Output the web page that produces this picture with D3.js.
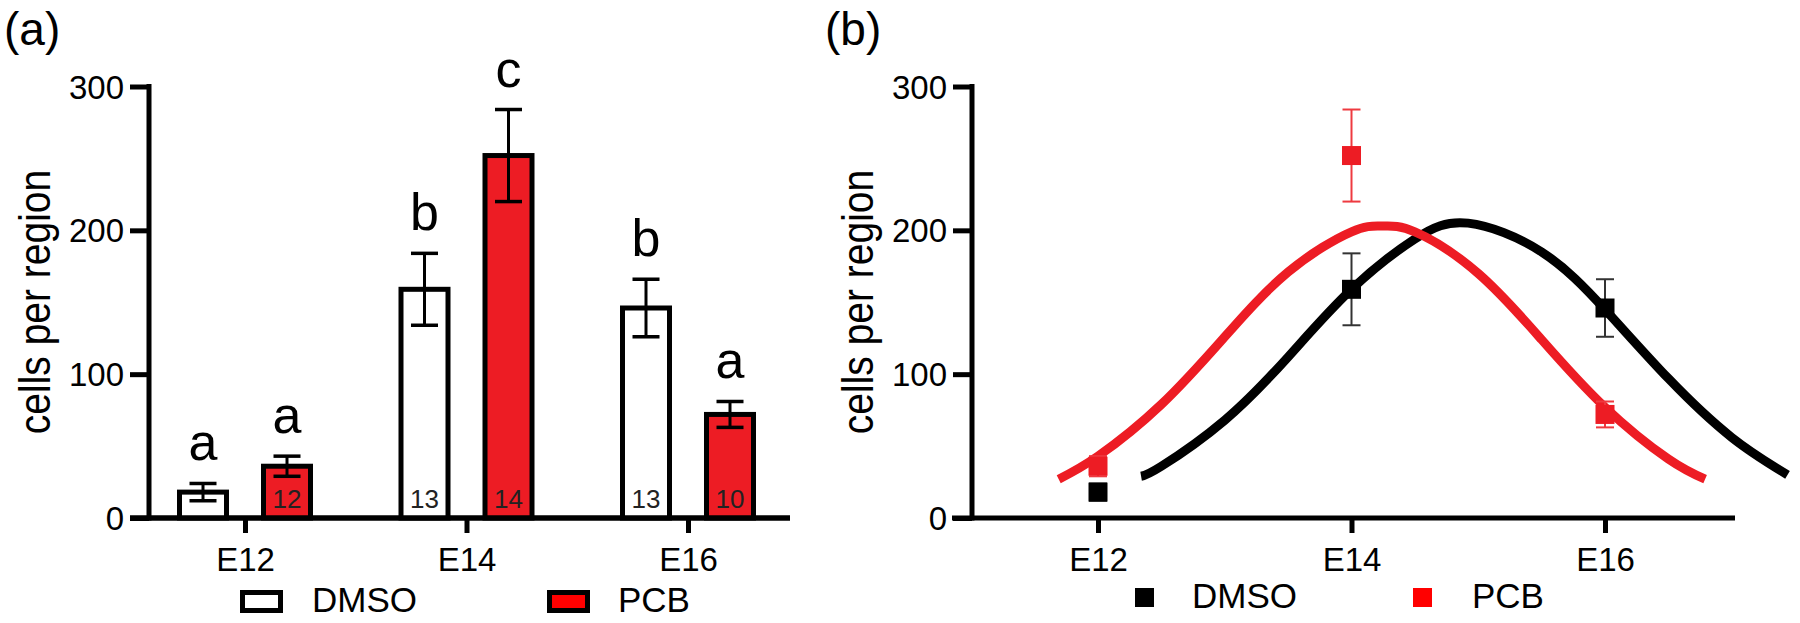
<!DOCTYPE html>
<html>
<head>
<meta charset="utf-8">
<script src="https://cdn.jsdelivr.net/npm/d3@7"></script>
<style>
  html, body { margin: 0; padding: 0; background: #fff; }
  svg { display: block; font-family: "Liberation Sans", Arial, Helvetica, sans-serif; }
</style>
</head>
<body>
<svg id="chart" width="1800" height="623"></svg>
<script>
// ---------------- data ----------------
const categories = ["E12", "E14", "E16"];
const days = [12, 14, 16];
const yTicks = [0, 100, 200, 300];

const dmsoMean = [18, 159, 146];
const dmsoErr  = [6, 25, 20];
const pcbMean  = [36, 252, 72];
const pcbErr   = [7, 32, 9];

const dmsoN = ["", "13", "13"];
const pcbN  = ["12", "14", "10"];
const dmsoLetters = ["a", "b", "b"];
const pcbLetters  = ["a", "c", "a"];

const seriesNames = ["DMSO", "PCB"];

// fitted curves: day, cells
const dmsoFitDay = [12.34, 12.5, 13, 13.5, 14, 14.5, 14.92, 15.5, 16, 16.5, 17, 17.44];
const dmsoFitVal = [29, 36, 68, 112, 159, 194, 205, 185, 145, 97, 56, 30];
const pcbFitDay  = [11.69, 12, 12.5, 13, 13.5, 14, 14.24, 14.5, 15, 15.5, 16, 16.5, 16.79];
const pcbFitVal  = [27, 43, 79, 126, 171, 199, 203, 199, 170, 124, 77, 41, 27];

// ---------------- drawing ----------------
const RED = "#ed1c24";
const svg = d3.select("#chart");

const y = d3.scaleLinear().domain([0, 300]).range([518, 86.5]);

function styleAxis(g, width) {
  g.selectAll(".tick line").attr("stroke", "#000").attr("stroke-width", width);
  g.selectAll(".tick text").attr("fill", "#000").attr("font-size", 33);
}

function yAxis(xPos) {
  const g = svg.append("g").attr("transform", `translate(${xPos},0)`)
    .call(d3.axisLeft(y).tickValues(yTicks).tickSize(19).tickPadding(6).tickSizeOuter(0));
  g.select(".domain").remove();
  styleAxis(g, 5);
  g.selectAll(".tick text").attr("dy", "0.35em");
  g.append("line").attr("x1", 0).attr("x2", 0).attr("y1", y(0) + 2.5).attr("y2", y(300) - 2.5)
    .attr("stroke", "#000").attr("stroke-width", 5);
}

function yTitle(xBase) {
  svg.append("text")
    .attr("transform", `translate(${xBase},302) rotate(-90) scale(1,1.12)`)
    .attr("text-anchor", "middle").attr("font-size", 39).attr("fill", "#000")
    .text("cells per region");
}

// ===== Panel (a) =====
svg.append("text").attr("x", 4).attr("y", 45).attr("font-size", 46).text("(a)");

const xa = d3.scalePoint().domain(categories).range([245, 688]);
const off = 42, barW = 47;

// x axis
const gxa = svg.append("g").attr("transform", `translate(0,${y(0)})`)
  .call(d3.axisBottom(xa).tickSize(15).tickSizeOuter(0));
gxa.select(".domain").remove();
styleAxis(gxa, 5);
gxa.selectAll(".tick text").attr("y", 53).attr("dy", 0);
svg.append("line").attr("x1", 130).attr("x2", 790).attr("y1", y(0)).attr("y2", y(0))
  .attr("stroke", "#000").attr("stroke-width", 5);

yAxis(149);
yTitle(50);

const groups = [
  { mean: dmsoMean, err: dmsoErr, n: dmsoN, let: dmsoLetters, dx: -off, fill: "#fff" },
  { mean: pcbMean, err: pcbErr, n: pcbN, let: pcbLetters, dx: off, fill: RED }
];

groups.forEach(s => {
  categories.forEach((c, i) => {
    const cx = xa(c) + s.dx;
    svg.append("rect")
      .attr("x", cx - barW / 2).attr("y", y(s.mean[i]))
      .attr("width", barW).attr("height", y(0) - y(s.mean[i]))
      .attr("fill", s.fill).attr("stroke", "#000").attr("stroke-width", 5);
  });
});
// redraw axis line on top of bar bottoms
svg.append("line").attr("x1", 130).attr("x2", 790).attr("y1", y(0)).attr("y2", y(0))
  .attr("stroke", "#000").attr("stroke-width", 5);

groups.forEach(s => {
  categories.forEach((c, i) => {
    const cx = xa(c) + s.dx;
    const top = y(s.mean[i] + s.err[i]), bot = y(s.mean[i] - s.err[i]);
    svg.append("line").attr("x1", cx).attr("x2", cx).attr("y1", top).attr("y2", bot)
      .attr("stroke", "#000").attr("stroke-width", 3);
    [top, bot].forEach(yy => svg.append("line")
      .attr("x1", cx - 13.5).attr("x2", cx + 13.5).attr("y1", yy).attr("y2", yy)
      .attr("stroke", "#000").attr("stroke-width", 3.5));
    svg.append("text").attr("x", cx).attr("y", top - 23)
      .attr("text-anchor", "middle").attr("font-size", 52).attr("fill", "#000")
      .text(s.let[i]);
    if (s.n[i]) {
      svg.append("text").attr("x", cx).attr("y", 508)
        .attr("text-anchor", "middle").attr("font-size", 26).attr("fill", "#222")
        .text(s.n[i]);
    }
  });
});

// legend (a)
const legA = [{ name: seriesNames[0], fill: "#fff", bx: 242.5, tx: 312 },
              { name: seriesNames[1], fill: "#ff0000", bx: 549.5, tx: 618 }];
legA.forEach(l => {
  svg.append("rect").attr("x", l.bx).attr("y", 592.5).attr("width", 38).attr("height", 18)
    .attr("fill", l.fill).attr("stroke", "#000").attr("stroke-width", 5);
  svg.append("text").attr("x", l.tx).attr("y", 612).attr("font-size", 35)
    .text(l.name);
});

// ===== Panel (b) =====
svg.append("text").attr("x", 825).attr("y", 45).attr("font-size", 46).text("(b)");

const xb = d3.scaleLinear().domain([12, 16]).range([1098, 1605]);

const gxb = svg.append("g").attr("transform", `translate(0,${y(0)})`)
  .call(d3.axisBottom(xb).tickValues(days).tickFormat((d, i) => categories[i]).tickSize(15).tickSizeOuter(0));
gxb.select(".domain").remove();
styleAxis(gxb, 5);
gxb.selectAll(".tick text").attr("y", 53).attr("dy", 0);
svg.append("line").attr("x1", 952).attr("x2", 1735).attr("y1", y(0)).attr("y2", y(0))
  .attr("stroke", "#000").attr("stroke-width", 5);

yAxis(972);
yTitle(873);

const line = d3.line().curve(d3.curveNatural);
svg.append("path")
  .attr("d", line(dmsoFitDay.map((d, i) => [xb(d), y(dmsoFitVal[i])])))
  .attr("fill", "none").attr("stroke", "#000").attr("stroke-width", 9);
svg.append("path")
  .attr("d", line(pcbFitDay.map((d, i) => [xb(d), y(pcbFitVal[i])])))
  .attr("fill", "none").attr("stroke", RED).attr("stroke-width", 9);

const pts = [
  { mean: pcbMean, err: pcbErr, col: RED, ecol: "#ee3a40" },
  { mean: dmsoMean, err: dmsoErr, col: "#000", ecol: "#333" }
];
pts.forEach(s => {
  days.forEach((d, i) => {
    const cx = xb(d);
    const top = y(s.mean[i] + s.err[i]), bot = y(s.mean[i] - s.err[i]);
    svg.append("line").attr("x1", cx).attr("x2", cx).attr("y1", top).attr("y2", bot)
      .attr("stroke", s.ecol).attr("stroke-width", 2);
    [top, bot].forEach(yy => svg.append("line")
      .attr("x1", cx - 9).attr("x2", cx + 9).attr("y1", yy).attr("y2", yy)
      .attr("stroke", s.ecol).attr("stroke-width", 2));
    svg.append("rect").attr("x", cx - 9.5).attr("y", y(s.mean[i]) - 9.5)
      .attr("width", 19).attr("height", 19).attr("fill", s.col);
  });
});

// legend (b)
const legB = [{ name: seriesNames[0], fill: "#000", bx: 1135, tx: 1192 },
              { name: seriesNames[1], fill: "#ff0000", bx: 1413, tx: 1472 }];
legB.forEach(l => {
  svg.append("rect").attr("x", l.bx).attr("y", 588).attr("width", 19).attr("height", 19)
    .attr("fill", l.fill);
  svg.append("text").attr("x", l.tx).attr("y", 608).attr("font-size", 35).text(l.name);
});
</script>
</body>
</html>
